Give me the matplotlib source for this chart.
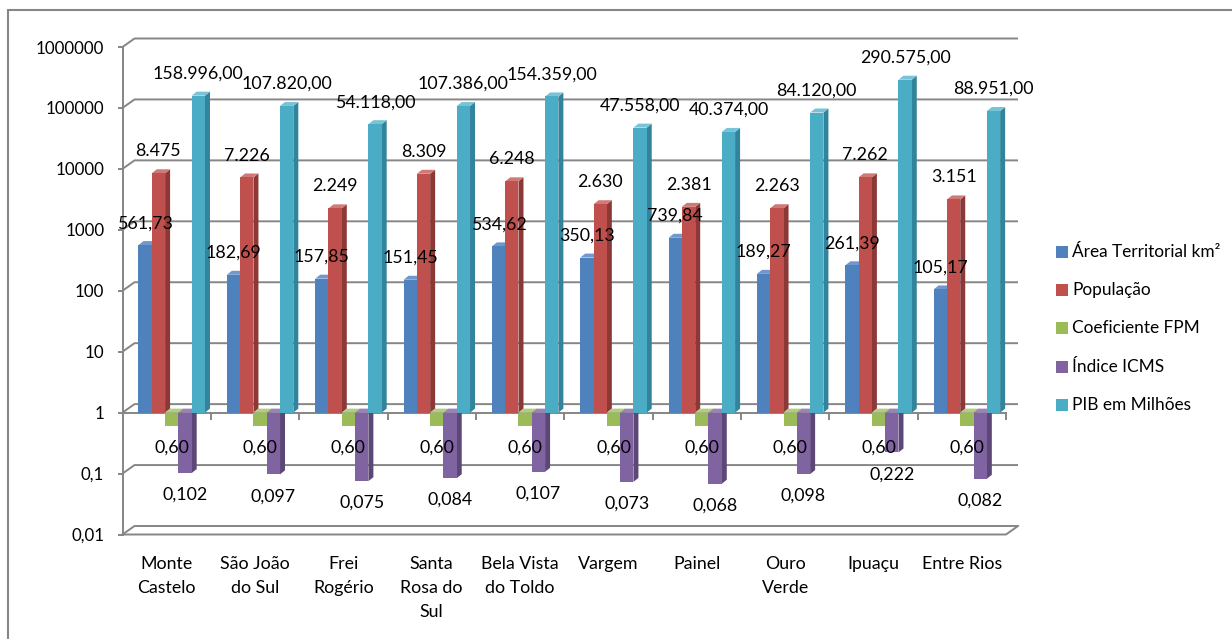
import matplotlib
matplotlib.use("Agg")
import matplotlib.pyplot as plt
from matplotlib.patches import Polygon, Rectangle
from matplotlib.ticker import FixedLocator, FixedFormatter, NullLocator
import numpy as np

plt.rcParams["font.family"] = ["Lato", "DejaVu Sans"]

# ---- data -------------------------------------------------------------
municipios = ["Monte\nCastelo", "São João\ndo Sul", "Frei\nRogério", "Santa\nRosa do\nSul",
              "Bela Vista\ndo Toldo", "Vargem", "Painel", "Ouro\nVerde", "Ipuaçu", "Entre Rios"]
area_km2 = [561.73, 182.69, 157.85, 151.45, 534.62, 350.13, 739.84, 189.27, 261.39, 105.17]
populacao = [8475, 7226, 2249, 8309, 6248, 2630, 2381, 2263, 7262, 3151]
coef_fpm = [0.60, 0.60, 0.60, 0.60, 0.60, 0.60, 0.60, 0.60, 0.60, 0.60]
indice_icms = [0.102, 0.097, 0.075, 0.084, 0.107, 0.073, 0.068, 0.098, 0.222, 0.082]
pib_milhoes = [158996, 107820, 54118, 107386, 154359, 47558, 40374, 84120, 290575, 88951]

series_names = ["Área Territorial km²", "População", "Coeficiente FPM", "Índice ICMS", "PIB em Milhões"]
series_values = [area_km2, populacao, coef_fpm, indice_icms, pib_milhoes]
series_decimals = [2, 0, 2, 3, 2]

y_ticks = [0.01, 0.1, 1, 10, 100, 1000, 10000, 100000, 1000000]
y_tick_labels = ["0,01", "0,1", "1", "10", "100", "1000", "10000", "100000", "1000000"]

# ---- style ------------------------------------------------------------
front_colors = ["#4F81BD", "#C0504D", "#9BBB59", "#8064A2", "#4BACC6"]
side_colors = ["#385D8A", "#8C3836", "#71893F", "#5C4776", "#31849B"]
top_colors = ["#7098CC", "#D07A77", "#B3CD80", "#9A83B8", "#78C3D6"]
grid_color = "#868686"
FS = 12.8


def fmt_br(v, dec):
    s = f"{v:,.{dec}f}"
    return s.replace(",", "X").replace(".", ",").replace("X", ".")


W_PX, H_PX = 1232, 639
fig = plt.figure(figsize=(W_PX / 100, H_PX / 100), dpi=100)
fig.patch.set_facecolor("white")

# outer chart border
fig.add_artist(Rectangle((8 / W_PX, -0.05), 1.1, (H_PX - 10) / H_PX + 0.05,
                         transform=fig.transFigure, fill=False,
                         edgecolor=grid_color, linewidth=1.5))

ax_l, ax_r, ax_t, ax_b = 122.5, 1006.0, 47.0, 534.5
ax = fig.add_axes([ax_l / W_PX, (H_PX - ax_b) / H_PX, (ax_r - ax_l) / W_PX, (ax_b - ax_t) / H_PX])
ax.set_yscale("log")
ax.set_xlim(0, 10)
ax.set_ylim(0.01, 1e6)
ax.patch.set_visible(False)
for name, sp in ax.spines.items():
    sp.set_visible(name == "left")
ax.spines["left"].set_color(grid_color)
ax.spines["left"].set_linewidth(1.4)
ax.set_xticks([])
ax.yaxis.set_major_locator(FixedLocator(y_ticks))
ax.yaxis.set_major_formatter(FixedFormatter(y_tick_labels))
ax.yaxis.set_minor_locator(NullLocator())
ax.tick_params(axis="y", length=3.6, width=1.4, color=grid_color, pad=9.5, labelsize=12.2)

# pixel -> data conversion for the 3D depth offsets
px_x = (ax_r - ax_l) / 10.0
px_dec = (ax_b - ax_t) / 8.0
wall_dx, wall_fy = 12 / px_x, 10 ** (8.5 / px_dec)
bar_dx, bar_fy = 5 / px_x, 10 ** (4 / px_dec)

# back wall gridlines with slanted link to the front axis
for v in y_ticks:
    ax.plot([0, wall_dx, 10 + wall_dx], [v, v * wall_fy, v * wall_fy],
            color=grid_color, lw=1.4, zorder=1, clip_on=False, solid_capstyle="butt")
# floor front edge and right edge
ax.plot([0, 10, 10 + wall_dx], [0.01, 0.01, 0.01 * wall_fy],
        color=grid_color, lw=1.4, zorder=1, clip_on=False)
# category axis at 1 with tick marks between categories
ax.plot([0, 10], [1, 1], color=grid_color, lw=1.4, zorder=2, clip_on=False)
tick_fy = 10 ** (-6 / px_dec)
for i in range(1, 11):
    ax.plot([i, i], [1, tick_fy], color=grid_color, lw=1.4, zorder=2, clip_on=False)

# ---- bars -------------------------------------------------------------
bw = 0.1505
x_first = 0.181
cats = np.arange(len(municipios))
for k, (vals, dec) in enumerate(zip(series_values, series_decimals)):
    vals = np.asarray(vals, dtype=float)
    x0 = cats + x_first + k * bw
    z = 3 + 0.1 * k
    ax.bar(x0, vals - 1, bottom=1, width=bw, align="edge",
           color=front_colors[k], edgecolor="none", zorder=z + 0.05, clip_on=False)
    for xl, v in zip(x0, vals):
        lo, hi = min(v, 1.0), max(v, 1.0)
        xr = xl + bw
        ax.add_patch(Polygon([(xr, lo), (xr + bar_dx, lo * bar_fy), (xr + bar_dx, hi * bar_fy), (xr, hi)],
                             closed=True, facecolor=side_colors[k], edgecolor="none",
                             zorder=z, clip_on=False))
        ax.add_patch(Polygon([(xl, hi), (xr, hi), (xr + bar_dx, hi * bar_fy), (xl + bar_dx, hi * bar_fy)],
                             closed=True, facecolor=top_colors[k], edgecolor="none",
                             zorder=z, clip_on=False))
        off = 15.8 if v >= 1 else -15.8
        ax.annotate(fmt_br(v, dec), xy=(xl + bw / 2, v), xytext=(0, off),
                    textcoords="offset points", ha="center", va="center",
                    fontsize=FS, color="black", zorder=10, annotation_clip=False)

# category labels
for i, name in enumerate(municipios):
    ax.annotate(name, xy=(i + 0.5, 0), xycoords=("data", "axes fraction"),
                xytext=(0, -15.5), textcoords="offset points", ha="center", va="top",
                fontsize=FS, linespacing=1.62, annotation_clip=False)

# ---- legend -----------------------------------------------------------
leg_y0, leg_step = 251.7, 38.3
for k, name in enumerate(series_names):
    cy = leg_y0 + k * leg_step
    fig.add_artist(Rectangle((1056 / W_PX, (H_PX - cy - 6) / H_PX), 12 / W_PX, 12 / H_PX,
                             transform=fig.transFigure, facecolor=front_colors[k], edgecolor="none"))
    fig.text(1072 / W_PX, (H_PX - cy) / H_PX, name, ha="left", va="center",
             fontsize=FS * 0.97, color="black")

fig.savefig("out.png", dpi=100, facecolor="white")
